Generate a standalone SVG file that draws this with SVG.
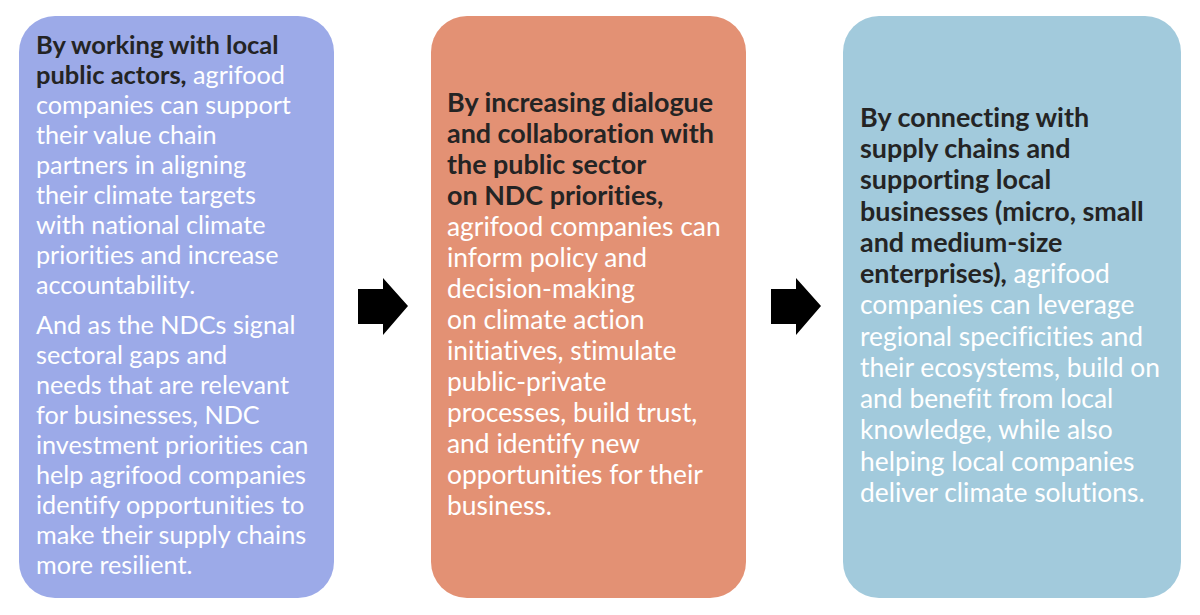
<svg xmlns="http://www.w3.org/2000/svg" width="1200" height="615" viewBox="0 0 1200 615">
<style>
text{font-family:Lato,"Liberation Sans",sans-serif;fill:#ffffff;font-variant-ligatures:none;font-feature-settings:"liga" 0,"clig" 0}
.t1{font-size:25.2px}
.t1 .b{font-size:25.5px}
.t2{font-size:26.4px}
.t2 .b{font-size:26.9px}
.b{font-weight:bold;fill:#242424}
.arrow{fill:#000000}
</style>
<rect width="1200" height="615" fill="#ffffff"/>
<g id="node1">
<rect x="19" y="16" width="315" height="582" rx="36" fill="#9CAAE8"/>
<text class="t1">
<tspan class="b" x="36" y="54">By working with local</tspan>
<tspan class="b" x="36" y="84">public actors,</tspan><tspan> agrifood</tspan>
<tspan x="36" y="114">companies can support</tspan>
<tspan x="36" y="144">their value chain</tspan>
<tspan x="36" y="174">partners in aligning</tspan>
<tspan x="36" y="204">their climate targets</tspan>
<tspan x="36" y="234">with national climate</tspan>
<tspan x="36" y="264">priorities and increase</tspan>
<tspan x="36" y="294">accountability.</tspan>
<tspan x="36" y="334">And as the NDCs signal</tspan>
<tspan x="36" y="364">sectoral gaps and</tspan>
<tspan x="36" y="394">needs that are relevant</tspan>
<tspan x="36" y="424">for businesses, NDC</tspan>
<tspan x="36" y="454">investment priorities can</tspan>
<tspan x="36" y="484">help agrifood companies</tspan>
<tspan x="36" y="514">identify opportunities to</tspan>
<tspan x="36" y="544">make their supply chains</tspan>
<tspan x="36" y="574">more resilient.</tspan>
</text>
</g>
<g id="node2">
<rect x="431" y="16" width="315" height="582" rx="36" fill="#E39174"/>
<text class="t2">
<tspan class="b" x="447" y="112">By increasing dialogue</tspan>
<tspan class="b" x="447" y="143">and collaboration with</tspan>
<tspan class="b" x="447" y="174">the public sector</tspan>
<tspan class="b" x="447" y="205">on NDC priorities,</tspan>
<tspan x="447" y="236">agrifood companies can</tspan>
<tspan x="447" y="267">inform policy and</tspan>
<tspan x="447" y="298">decision-making</tspan>
<tspan x="447" y="329">on climate action</tspan>
<tspan x="447" y="360">initiatives, stimulate</tspan>
<tspan x="447" y="391">public-private</tspan>
<tspan x="447" y="422">processes, build trust,</tspan>
<tspan x="447" y="453">and identify new</tspan>
<tspan x="447" y="484">opportunities for their</tspan>
<tspan x="447" y="515">business.</tspan>
</text>
</g>
<g id="node3">
<rect x="843" y="16" width="338" height="582" rx="36" fill="#A2CADC"/>
<text class="t2">
<tspan class="b" x="860" y="127">By connecting with</tspan>
<tspan class="b" x="860" y="158">supply chains and</tspan>
<tspan class="b" x="860" y="189">supporting local</tspan>
<tspan class="b" x="860" y="221">businesses (micro, small</tspan>
<tspan class="b" x="860" y="252">and medium-size</tspan>
<tspan class="b" x="860" y="283">enterprises),</tspan><tspan> agrifood</tspan>
<tspan x="860" y="314">companies can leverage</tspan>
<tspan x="860" y="346">regional specificities and</tspan>
<tspan x="860" y="377">their ecosystems, build on</tspan>
<tspan x="860" y="408">and benefit from local</tspan>
<tspan x="860" y="439">knowledge, while also</tspan>
<tspan x="860" y="471">helping local companies</tspan>
<tspan x="860" y="502">deliver climate solutions.</tspan>
</text>
</g>
<g id="connectors">
<polygon class="arrow" points="358,289 383,289 383,278 408,306 383,335 383,324 358,324"/>
<polygon class="arrow" points="771,289 796,289 796,278 821,306 796,335 796,324 771,324"/>
</g>
</svg>
